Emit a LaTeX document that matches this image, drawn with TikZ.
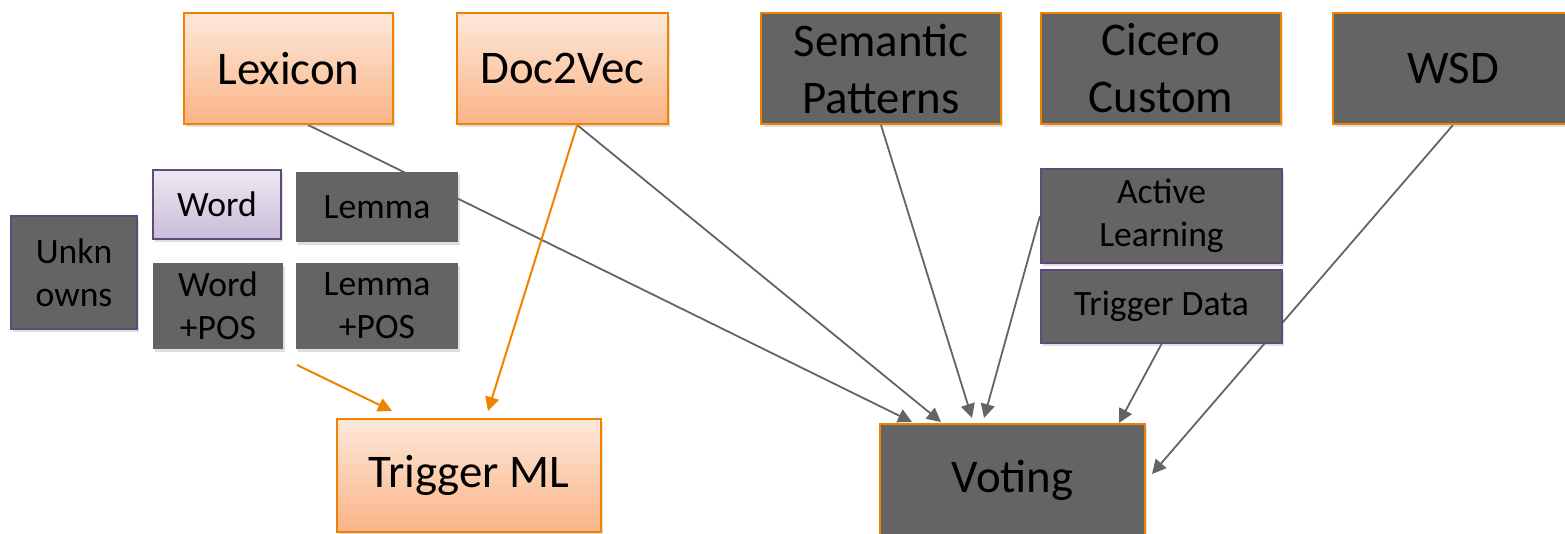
\documentclass[tikz,border=0pt]{standalone}
\usepackage{fontspec}
\setmainfont{Carlito}
\usetikzlibrary{arrows.meta,calc,shadows,backgrounds}
\definecolor{orb}{RGB}{240,130,0}
\definecolor{purb}{RGB}{96,74,123}
\definecolor{grayf}{RGB}{100,100,100}
\definecolor{ortop}{RGB}{253,232,218}
\definecolor{orbot}{RGB}{250,180,134}
\definecolor{lvtop}{RGB}{236,232,243}
\definecolor{lvbot}{RGB}{200,189,216}
\definecolor{linegray}{RGB}{100,100,100}
\begin{document}
\begin{tikzpicture}[x=0.5pt,y=-0.5pt,
  base/.style={rectangle, inner sep=0pt, line width=1pt, align=center, text=black,
    drop shadow={shadow xshift=1pt, shadow yshift=-1.5pt, opacity=0.25}},
  big/.style={font=\fontsize{23.4pt}{28.5pt}\selectfont},
  small/.style={font=\fontsize{17.8pt}{21.5pt}\selectfont},
  orangebox/.style={base, draw=orb, top color=ortop, bottom color=orbot},
  graybox/.style={base, draw=orb, fill=grayf},
  grayp/.style={base, draw=purb, fill=grayf},
  grayn/.style={base, draw=none, fill=grayf},
  lavbox/.style={base, draw=purb, top color=lvtop, bottom color=lvbot},
  conn/.style={draw=linegray, line width=0.9pt, -{Triangle[length=7pt,width=7pt]}},
  oconn/.style={draw=orb, line width=1pt, -{Triangle[length=7pt,width=7pt]}},
  sz/.style 2 args={minimum width=#1*0.5pt, minimum height=#2*0.5pt}
]
\useasboundingbox (0,0) rectangle (1565,534);

% top row
\node[orangebox, big, sz={209}{111}] (lex) at (288.5,68.5) {Lexicon};
\node[orangebox, big, sz={211}{111}] (d2v) at (562.5,68.5) {Doc2Vec};
\node[graybox, big, sz={240}{111}] (sem) at (881,68.5) {Semantic\\Patterns};
\node[graybox, big, sz={240}{111}] (cic) at (1161,68.5) {Cicero\\Custom};
\node[graybox, big, sz={240}{111}] (wsd) at (1453,68.5) {WSD};

% feature boxes
\node[lavbox, small, sz={128}{69}] (word) at (217,204.5) {Word};
\node[grayn, small, sz={162}{70}] (lemma) at (377,207) {Lemma};
\node[grayp, small, sz={126}{113}] (unk) at (74,272.5) {Unkn\\owns};
\node[grayn, small, sz={130}{86}] (wpos) at (218,306) {Word\\+POS};
\node[grayn, small, sz={162}{86}] (lpos) at (377,306) {Lemma\\+POS};

% right middle
\node[grayp, small, sz={241}{94}] (act) at (1161.5,216) {Active\\Learning};
\node[grayp, small, sz={241}{73}] (tdata) at (1161.5,306.5) {Trigger Data};

% bottom
\node[orangebox, big, sz={264}{113}] (tml) at (469,475.5) {Trigger ML};
\node[graybox, big, sz={265}{113}] (vote) at (1012.5,480.5) {Voting};

\coordinate (feat) at (297,365);

\begin{scope}[on background layer]
\draw[conn] ($(lex.south west)!0.593!(lex.south east)$) -- ($(vote.north west)+(33,-1)$);
\draw[conn] ($(d2v.south west)!0.569!(d2v.south east)$) -- ($(vote.north west)+(62,-1)$);
\draw[conn] (sem.south) -- ($(vote.north west)+(93,-5)$);
\draw[conn] (act.west) -- ($(vote.north west)+(105,-5)$);
\draw[conn] (tdata.south) -- ($(vote.north west)+(240,0)$);
\draw[conn] (wsd.south) -- ($(vote.north east)+(6,51)$);
\draw[oconn] ($(d2v.south west)!0.569!(d2v.south east)$) -- ($(tml.north west)+(152,-7)$);
\draw[oconn] (feat) -- ($(tml.north west)+(56,-7)$);
\end{scope}
\end{tikzpicture}
\end{document}
